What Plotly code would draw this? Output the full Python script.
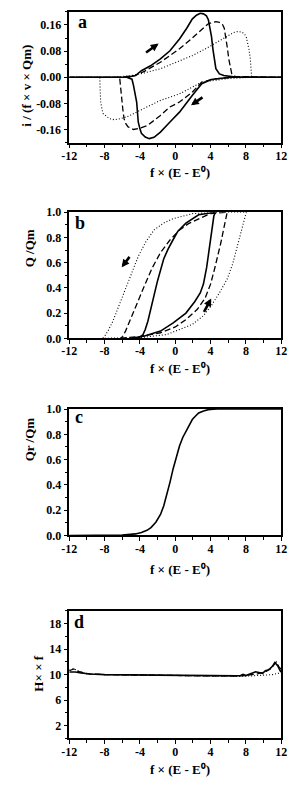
import plotly.graph_objects as go

# ---------------- Panel a : normalised current ----------------
a_solid_fwd_x = [-12, -5.5, -4.5, -3.83, -2.8, -1.68, -0.6, 0.48, 1.3, 1.92, 2.4, 2.82, 3.2, 3.53, 3.75, 3.9, 4.1, 4.26, 4.45, 4.6, 5.0, 5.5, 6.6, 12]
a_solid_fwd_y = [0, 0, 0.005, 0.02, 0.035, 0.056, 0.081, 0.117, 0.150, 0.178, 0.190, 0.196, 0.194, 0.188, 0.176, 0.158, 0.125, 0.087, 0.050, 0.026, 0.010, 0.005, 0.001, 0]
a_solid_rev_x = [12, 6.2, 4.07, 3.0, 1.92, 0.48, -0.6, -1.68, -2.4, -2.94, -3.4, -3.83, -4.0, -4.19, -4.37, -4.55, -4.73, -4.9, -5.5, -12]
a_solid_rev_y = [0, 0, -0.007, -0.020, -0.056, -0.107, -0.137, -0.168, -0.184, -0.188, -0.183, -0.172, -0.158, -0.137, -0.076, -0.045, -0.025, -0.006, 0, 0]

a_dash_fwd_x = [-12, -6, -4.5, -3.5, -1.68, -0.6, 0.48, 1.5, 2.63, 3.2, 3.7, 4.2, 4.6, 5.0, 5.33, 5.55, 5.7, 5.9, 6.06, 6.25, 6.4, 6.8, 12]
a_dash_fwd_y = [0, 0, 0.006, 0.018, 0.046, 0.066, 0.087, 0.110, 0.137, 0.150, 0.163, 0.168, 0.170, 0.168, 0.163, 0.150, 0.127, 0.090, 0.056, 0.025, 0.010, 0.002, 0]
a_dash_rev_x = [12, 6.5, 4.5, 3.0, 1.92, 0.48, -0.6, -1.68, -3.1, -4.0, -4.73, -5.34, -5.6, -5.8, -5.95, -6.1, -6.2, -6.28, -6.3, -12]
a_dash_rev_y = [0, 0, -0.005, -0.015, -0.046, -0.076, -0.091, -0.117, -0.147, -0.156, -0.160, -0.152, -0.142, -0.127, -0.095, -0.056, -0.025, -0.008, 0, 0]

a_dot_fwd_x = [-12, -7, -5, -3.5, -1.68, 0, 1.92, 3.5, 4.8, 5.8, 6.6, 7.13, 7.55, 7.85, 8.05, 8.2, 8.35, 8.5, 8.6, 8.65, 12]
a_dot_fwd_y = [0, 0, 0.005, 0.013, 0.026, 0.045, 0.066, 0.088, 0.107, 0.124, 0.137, 0.140, 0.138, 0.132, 0.122, 0.107, 0.085, 0.056, 0.030, 0.0, 0]
a_dot_rev_x = [12, 8.7, 6, 3.0, 0.48, -0.6, -1.68, -3.5, -5.27, -6.2, -6.9, -7.43, -7.8, -8.15, -8.3, -8.44, -8.5, -8.55, -12]
a_dot_rev_y = [0, 0, -0.004, -0.015, -0.051, -0.061, -0.071, -0.095, -0.119, -0.127, -0.130, -0.127, -0.120, -0.112, -0.098, -0.076, -0.040, 0, 0]

# ---------------- Panel b : Q/Qm ----------------
b_solid_fwd_x = [-5.0, -3.47, -1.67, -0.23, 1.21, 2.2, 2.83, 3.19, 3.55, 3.8, 4.01, 4.2, 4.37, 4.55]
b_solid_fwd_y = [0, 0.018, 0.057, 0.122, 0.20, 0.29, 0.36, 0.43, 0.56, 0.68, 0.80, 0.90, 0.97, 1.0]
b_solid_rev_x = [4.55, 2.65, 1.21, 0.3, -0.23, -0.8, -1.31, -1.7, -2.03, -2.3, -2.57, -2.85, -3.1, -3.4, -3.65, -4.0, -4.4]
b_solid_rev_y = [1.0, 0.98, 0.914, 0.85, 0.784, 0.71, 0.63, 0.54, 0.45, 0.37, 0.29, 0.21, 0.135, 0.07, 0.03, 0.008, 0]

b_dash_fwd_x = [-6.2, -4, -1.67, 0, 1.21, 2.5, 3.37, 4.0, 4.45, 4.85, 5.17, 5.55, 5.88]
b_dash_fwd_y = [0, 0.015, 0.044, 0.09, 0.148, 0.23, 0.317, 0.43, 0.55, 0.66, 0.76, 0.89, 1.0]
b_dash_rev_x = [5.88, 4.0, 2.65, 1.5, 0.49, -0.6, -1.67, -2.6, -3.47, -4.1, -4.73, -5.2, -5.63, -5.95, -6.17]
b_dash_rev_y = [1.0, 0.99, 0.95, 0.91, 0.86, 0.78, 0.68, 0.56, 0.42, 0.31, 0.21, 0.13, 0.057, 0.015, 0]

b_dot_fwd_x = [-8.3, -4, -0.95, 1.93, 3.2, 4.09, 5.0, 5.88, 6.5, 6.96, 7.5, 8.04]
b_dot_fwd_y = [0, 0.005, 0.03, 0.11, 0.18, 0.26, 0.36, 0.47, 0.59, 0.71, 0.85, 1.0]
b_dot_rev_x = [8.04, 5, 2.0, -0.23, -1.3, -2.39, -3.3, -4.19, -4.9, -5.63, -6.35, -7.07, -7.6, -8.15]
b_dot_rev_y = [1.0, 1.0, 0.99, 0.95, 0.915, 0.86, 0.77, 0.65, 0.52, 0.39, 0.26, 0.135, 0.06, 0]

# ---------------- Panel c : Qr/Qm ----------------
c_x = [-12, -6, -4.5, -3.83, -3.2, -2.75, -2.2, -1.67, -1.3, -0.95, -0.6, -0.23, 0.15, 0.49, 0.85, 1.21, 1.6, 1.93, 2.3, 2.65, 3.2, 3.73, 4.3, 4.8, 12]
c_y = [0, 0.003, 0.012, 0.023, 0.04, 0.062, 0.105, 0.166, 0.235, 0.32, 0.42, 0.53, 0.625, 0.71, 0.775, 0.826, 0.877, 0.917, 0.945, 0.969, 0.985, 0.995, 0.999, 1.0, 1.0]

# ---------------- Panel d : H x f ----------------
d_solid_x = [-12, -11.3, -10.67, -10, -9.6, -8, -4.55, 0, 2.65, 6.96, 7.4, 7.68, 8.0, 8.39, 8.7, 9.1, 9.6, 9.9, 10.2, 10.5, 10.73, 11.0, 11.27, 11.6, 11.88, 12]
d_solid_y = [10.4, 10.4, 10.25, 10.15, 10.1, 10.0, 9.95, 9.85, 9.8, 9.8, 9.85, 10.05, 9.85, 10.08, 10.2, 10.44, 10.3, 10.2, 10.6, 10.7, 10.95, 11.3, 11.9, 11.4, 10.6, 10.4]
d_dash_x = [-12, -11.5, -11, -10.4, -9.8, -8, -4, 0, 4, 7.5, 8.2, 8.8, 9.3, 9.8, 10.3, 10.8, 11.2, 11.45, 11.7, 12]
d_dash_y = [10.6, 10.9, 10.5, 10.3, 10.1, 10.0, 9.9, 9.85, 9.8, 9.8, 9.9, 9.95, 10.1, 10.3, 10.5, 10.9, 11.6, 12.0, 11.3, 10.8]
d_dot_x = [-12, -11.5, -11, -10.5, -10, -8, -4, 0, 4, 8, 9, 10, 11, 12]
d_dot_y = [10.7, 10.9, 10.6, 10.3, 10.1, 10.0, 9.9, 9.85, 9.8, 9.75, 9.8, 9.85, 10.0, 10.3]

x_ticks = [-12, -8, -4, 0, 4, 8, 12]
a_yticks = [-0.16, -0.08, 0.0, 0.08, 0.16]
bc_yticks = [0.0, 0.2, 0.4, 0.6, 0.8, 1.0]
d_yticks = [2, 6, 10, 14, 18]

FONT = "Liberation Serif"
W, H = 298, 787


def px_x(p):
    return p / W


def px_y(p):
    return 1 - p / H


fig = go.Figure()

styles = {
    "solid": dict(color="black", width=1.6, dash="solid"),
    "dash": dict(color="black", width=1.3, dash="6px,3px"),
    "dot": dict(color="black", width=1.1, dash="1px,2px"),
}

for key, fx, fy, rx, ry in [
    ("solid", a_solid_fwd_x, a_solid_fwd_y, a_solid_rev_x, a_solid_rev_y),
    ("dash", a_dash_fwd_x, a_dash_fwd_y, a_dash_rev_x, a_dash_rev_y),
    ("dot", a_dot_fwd_x, a_dot_fwd_y, a_dot_rev_x, a_dot_rev_y),
]:
    fig.add_trace(go.Scatter(x=fx + rx, y=fy + ry, mode="lines", line=styles[key],
                             xaxis="x", yaxis="y", showlegend=False, hoverinfo="skip"))

for key, fx, fy, rx, ry in [
    ("solid", b_solid_fwd_x, b_solid_fwd_y, b_solid_rev_x, b_solid_rev_y),
    ("dash", b_dash_fwd_x, b_dash_fwd_y, b_dash_rev_x, b_dash_rev_y),
    ("dot", b_dot_fwd_x, b_dot_fwd_y, b_dot_rev_x, b_dot_rev_y),
]:
    fig.add_trace(go.Scatter(x=fx + rx, y=fy + ry, mode="lines", line=styles[key],
                             xaxis="x2", yaxis="y2", showlegend=False, hoverinfo="skip"))

fig.add_trace(go.Scatter(x=c_x, y=c_y, mode="lines", line=styles["solid"],
                         xaxis="x3", yaxis="y3", showlegend=False, hoverinfo="skip"))

for key, xs, ys in [("dot", d_dot_x, d_dot_y), ("dash", d_dash_x, d_dash_y), ("solid", d_solid_x, d_solid_y)]:
    fig.add_trace(go.Scatter(x=xs, y=ys, mode="lines", line=styles[key],
                             xaxis="x4", yaxis="y4", showlegend=False, hoverinfo="skip"))

tickfont = dict(family=FONT, size=12, color="black", weight="bold")
xdom = [px_x(64.3), px_x(286.7)]
ydoms = {
    "a": [px_y(138), px_y(5)],
    "b": [px_y(337.3), px_y(209)],
    "c": [px_y(538), px_y(409.3)],
    "d": [px_y(744.7), px_y(614.7)],
}


def xaxis(anchor):
    return dict(domain=xdom, range=[-12, 12], anchor=anchor, showline=True, linecolor="black",
                linewidth=1.5, mirror=True, ticks="outside", ticklen=4, tickwidth=1.2,
                tickcolor="black", tickvals=x_ticks, ticktext=[str(v) for v in x_ticks],
                tickfont=tickfont, showgrid=False, zeroline=False, ticklabelstandoff=-3,
                minor=dict(dtick=2, tick0=0, ticks="outside", ticklen=3, tickwidth=1, tickcolor="black", showgrid=False))


def yaxis(anchor, dom, rng, vals, texts, mdt):
    return dict(domain=dom, range=rng, anchor=anchor, showline=True, linecolor="black",
                linewidth=1.5, mirror=True, ticks="outside", ticklen=4, tickwidth=1.2,
                tickcolor="black", tickvals=vals, ticktext=texts, tickfont=tickfont,
                showgrid=False, zeroline=False,
                minor=dict(dtick=mdt, tick0=0, ticks="outside", ticklen=3, tickwidth=1, tickcolor="black", showgrid=False))


def fmt(v, n):
    return f"{v:.{n}f}"


fig.update_layout(
    width=W, height=H, margin=dict(l=0, r=0, t=0, b=0),
    paper_bgcolor="white", plot_bgcolor="white", showlegend=False,
    xaxis=xaxis("y"), xaxis2=xaxis("y2"), xaxis3=xaxis("y3"), xaxis4=xaxis("y4"),
    yaxis=yaxis("x", ydoms["a"], [-0.2, 0.2], a_yticks, [fmt(v, 2) for v in a_yticks], 0.04),
    yaxis2=yaxis("x2", ydoms["b"], [0, 1], bc_yticks, [fmt(v, 1) for v in bc_yticks], 0.1),
    yaxis3=yaxis("x3", ydoms["c"], [0, 1], bc_yticks, [fmt(v, 1) for v in bc_yticks], 0.1),
    yaxis4=yaxis("x4", ydoms["d"], [0, 20], d_yticks, [str(v) for v in d_yticks], 2),
)

ann = []
xtitle = "<b>f × (E - E\u2070)</b>"
for yc in [168.5, 368, 573, 776]:
    ann.append(dict(text=xtitle, x=px_x(180), y=px_y(yc), xref="paper", yref="paper",
                    showarrow=False, font=dict(family=FONT, size=13, color="black"),
                    xanchor="center", yanchor="middle"))

ytitles = [
    ("<b>i / (f × v × Qm)</b>", 20, 80),
    ("<b>Q /Qm</b>", 22.7, 246),
    ("<b>Qr /Qm</b>", 22.7, 440.5),
    ("<b>H× × f</b>", 31.7, 678.5),
]
for t, xc, yc in ytitles:
    ann.append(dict(text=t, x=px_x(xc), y=px_y(yc), xref="paper", yref="paper", textangle=-90,
                    showarrow=False, font=dict(family=FONT, size=13, color="black"),
                    xanchor="center", yanchor="middle"))

for lab, xc, yc in [("a", 78, 15), ("b", 76, 220), ("c", 75, 417.3), ("d", 75, 626)]:
    ann.append(dict(text=f"<b>{lab}</b>", x=px_x(xc), y=px_y(yc), xref="paper", yref="paper",
                    showarrow=False, font=dict(family=FONT, size=18, color="black"),
                    xanchor="center", yanchor="middle"))

# sweep-direction arrows: head position in data units, tail offset in pixels
arrow = dict(showarrow=True, arrowhead=2, arrowsize=0.6, arrowwidth=2.6, arrowcolor="black", text="",
             axref="pixel", ayref="pixel")
ann.append(dict(arrow, x=-1.89, y=0.103, xref="x", yref="y", ax=-14, ay=10))
ann.append(dict(arrow, x=1.78, y=-0.086, xref="x", yref="y", ax=13, ay=-9))
ann.append(dict(arrow, x=-6.07, y=0.563, xref="x2", yref="y2", ax=9, ay=-12))
ann.append(dict(arrow, x=4.07, y=0.316, xref="x2", yref="y2", ax=-8, ay=15))

fig.update_layout(annotations=ann)
fig.write_html("out.html")
